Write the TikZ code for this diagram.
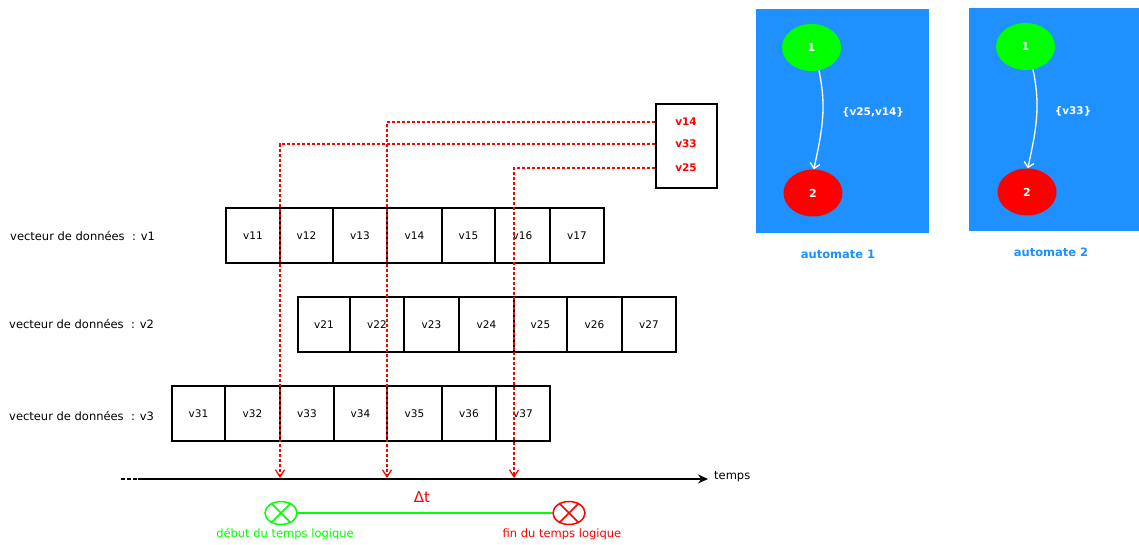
\documentclass[tikz,border=0pt]{standalone}
\usepackage{fontspec}
\setmainfont{DejaVu Sans}
\usetikzlibrary{arrows.meta,shapes.geometric}
\definecolor{dblue}{RGB}{30,144,255}
\definecolor{vgreen}{RGB}{0,255,0}
\definecolor{vred}{RGB}{255,0,0}
\begin{document}
\begin{tikzpicture}[x=1pt,y=1pt,
 cell/.style={draw=black,line width=1.3pt,minimum height=55pt,inner sep=0pt,font=\fontsize{10.5}{12}\selectfont},
 rowlabel/.style={anchor=west,inner sep=0pt,font=\fontsize{11.5}{13}\selectfont},
 leg/.style={text=vred,inner sep=0pt,font=\bfseries\fontsize{10.5}{12}\selectfont},
 link/.style={vred,line width=1.2pt,dash pattern=on 3pt off 2pt,-{Straight Barb[length=7pt,width=9pt,line width=1.3pt]}},
 state/.style={ellipse,minimum width=59pt,minimum height=47pt,inner sep=0pt,text=white,font=\bfseries\fontsize{11}{13}\selectfont},
 autobox/.style={fill=dblue,draw=none,inner sep=0pt},
 trans/.style={white,line width=1.3pt,-{Straight Barb[length=5pt,width=10pt]}},
 translabel/.style={text=white,inner sep=0pt,font=\bfseries\fontsize{10.5}{12}\selectfont},
 autolabel/.style={text=dblue,inner sep=0pt,font=\bfseries\fontsize{11.5}{13}\selectfont},
 xmark/.style={ellipse,draw,line width=1.5pt,minimum width=32pt,minimum height=23pt,inner sep=0pt},
 small/.style={inner sep=0pt,font=\fontsize{11.5}{13}\selectfont}
]
\useasboundingbox (0,0) rectangle (1139,-545);

% row labels
\node[rowlabel] (lab1) at (10,-236) {vecteur de données~ : v1};
\node[rowlabel] (lab2) at (9,-324) {vecteur de données~ : v2};
\node[rowlabel] (lab3) at (9,-416) {vecteur de données~ : v3};

% cells
\foreach \a/\b/\t in {226/280/v11,280/333/v12,333/387/v13,387/442/v14,442/495/v15,495/550/v16,550/604/v17}
  \node[cell,minimum width={\b-\a}] (\t) at ({(\a+\b)/2},-235.5) {\t};
\foreach \a/\b/\t in {298/350/v21,350/404/v22,404/459/v23,459/514/v24,514/567/v25,567/622/v26,622/676/v27}
  \node[cell,minimum width={\b-\a}] (\t) at ({(\a+\b)/2},-324.5) {\t};
\foreach \a/\b/\t in {172/225/v31,225/280/v32,280/334/v33,334/387/v34,387/442/v35,442/496/v36,496/550/v37}
  \node[cell,minimum width={\b-\a}] (\t) at ({(\a+\b)/2},-413.5) {\t};

% legend box
\node[draw=black,line width=1.6pt,minimum width=61pt,minimum height=84pt,inner sep=0pt] (legend) at (686.5,-146) {};
\node[leg] (l14) at (686,-122) {v14};
\node[leg] (l33) at (686,-144) {v33};
\node[leg] (l25) at (686,-168) {v25};

% time axis
\coordinate (ax0) at (121,-479);
\coordinate (ax1) at (138,-479);
\coordinate (ax2) at (708,-479);
\node[small,anchor=west] (temps) at (714,-477) {temps};
\draw[line width=1.3pt,dash pattern=on 4pt off 2pt] (ax0) -- (ax1);
\draw[line width=1.3pt,-{Stealth[length=10pt,width=9pt]}] (ax1) -- (ax2);

% dashed links
\coordinate (t1) at (280,-478);
\coordinate (t2) at (387,-478);
\coordinate (t3) at (514,-478);
\draw[link] (legend.west |- l33) -| (t1);
\draw[link] (legend.west |- l14) -| (t2);
\draw[link] (legend.west |- l25) -| (t3);

% logical time
\node[xmark,draw=vgreen] (deb) at (281,-513) {};
\draw[vgreen,line width=1.5pt] (deb.45) -- (deb.225) (deb.135) -- (deb.-45);
\node[xmark,draw=vred] (fin) at (569,-513) {};
\draw[vred,line width=1.5pt] (fin.45) -- (fin.225) (fin.135) -- (fin.-45);
\draw[vgreen,line width=1.5pt] (deb) -- (fin);
\node[text=vred,inner sep=0pt,font=\fontsize{15}{17}\selectfont] (dt) at (422,-497) {Δt};
\node[small,text=vgreen] (ldeb) at (285,-534) {début du temps logique};
\node[small,text=vred] (lfin) at (562,-534) {fin du temps logique};

% automate 1
\node[autobox,minimum width=173pt,minimum height=224pt] (A1) at (842.5,-121) {};
\node[state,fill=vgreen] (a1s1) at (811.5,-47.5) {1};
\node[state,fill=vred] (a1s2) at (813,-193) {2};
\draw[trans] (a1s1.-72) to[out=-78,in=78] (a1s2.88);
\node[translabel] (a1t) at (873,-112) {\{v25,v14\}};
\node[autolabel] (a1l) at (838,-254) {automate 1};

% automate 2
\node[autobox,minimum width=170pt,minimum height=223pt] (A2) at (1054,-119.5) {};
\node[state,fill=vgreen] (a2s1) at (1025.5,-46.5) {1};
\node[state,fill=vred] (a2s2) at (1027,-192) {2};
\draw[trans] (a2s1.-72) to[out=-78,in=78] (a2s2.88);
\node[translabel] (a2t) at (1073,-111) {\{v33\}};
\node[autolabel] (a2l) at (1051,-252) {automate 2};
\end{tikzpicture}
\end{document}
